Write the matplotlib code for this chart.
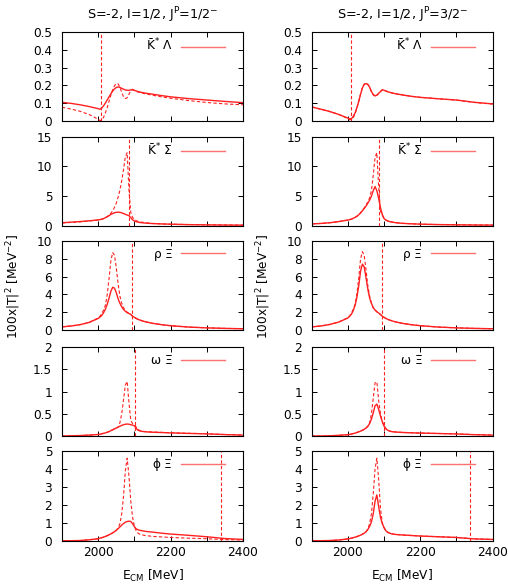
import matplotlib
matplotlib.use("Agg")
import matplotlib.pyplot as plt
from matplotlib.ticker import MultipleLocator, FuncFormatter
from matplotlib.lines import Line2D

plt.rcParams['font.family'] = ['DejaVu Sans']
plt.rcParams['mathtext.default'] = 'regular'

# Energy grid (MeV)
energy = [1900, 1925, 1950, 1975, 2000, 2005, 2010, 2015, 2020, 2025, 2030, 2035,
          2040, 2045, 2050, 2055, 2060, 2065, 2070, 2075, 2080, 2085, 2090, 2095,
          2100, 2105, 2110, 2115, 2120, 2130, 2150, 2175, 2200, 2250, 2300, 2350, 2400]

channels = [r"$\bar{K}^{*}$ $\Lambda$", r"$\bar{K}^{*}$ $\Sigma$", r"$\rho$ $\Xi$",
            r"$\omega$ $\Xi$", r"$\phi$ $\Xi$"]
thresholds = [2008, 2085, 2093, 2101, 2338]
ymax = [0.5, 15, 10, 2, 5]
ystep = [0.1, 5, 2, 0.5, 1]
titles = [r"S=-2, I=1/2, J$^{P}$=1/2$^{-}$", r"S=-2, I=1/2, J$^{P}$=3/2$^{-}$"]

# ---- J^P = 1/2^- (left column) ----
kl_12_solid = [0.104, 0.098, 0.090, 0.080, 0.068, 0.065, 0.072, 0.085, 0.100, 0.118, 0.135, 0.152,
               0.168, 0.180, 0.188, 0.191, 0.188, 0.183, 0.178, 0.174, 0.172, 0.172, 0.174, 0.177,
               0.172, 0.168, 0.165, 0.162, 0.160, 0.156, 0.150, 0.142, 0.135, 0.125, 0.117, 0.109, 0.102]
kl_12_dash = [0.076, 0.066, 0.053, 0.035, 0.008, 0.000, 0.005, 0.020, 0.045, 0.075, 0.110, 0.145,
              0.175, 0.198, 0.210, 0.208, 0.190, 0.160, 0.135, 0.125, 0.130, 0.150, 0.168, 0.175,
              0.170, 0.166, 0.162, 0.160, 0.157, 0.152, 0.144, 0.135, 0.127, 0.114, 0.103, 0.095, 0.090]
ks_12_solid = [0.50, 0.60, 0.70, 0.82, 0.98, 1.03, 1.10, 1.20, 1.35, 1.50, 1.70, 1.90,
               2.05, 2.18, 2.25, 2.28, 2.25, 2.17, 2.05, 1.92, 1.80, 1.68, 1.35, 1.00,
               0.80, 0.68, 0.60, 0.54, 0.50, 0.44, 0.36, 0.30, 0.25, 0.18, 0.14, 0.11, 0.09]
ks_12_dash = [0.45, 0.55, 0.65, 0.80, 0.95, 1.00, 1.10, 1.20, 1.35, 1.55, 1.80, 2.10,
              2.50, 3.10, 3.80, 4.80, 6.00, 7.60, 9.50, 11.6, 12.3, 6.00, 2.20, 1.40,
              1.10, 0.85, 0.72, 0.65, 0.60, 0.50, 0.38, 0.30, 0.26, 0.19, 0.15, 0.12, 0.10]
rx_12_solid = [0.35, 0.45, 0.60, 0.85, 1.30, 1.45, 1.65, 1.95, 2.35, 2.90, 3.60, 4.35,
               4.80, 4.70, 4.20, 3.50, 3.00, 2.60, 2.30, 2.10, 1.95, 1.85, 1.75, 1.55,
               1.42, 1.30, 1.20, 1.12, 1.05, 0.93, 0.75, 0.60, 0.48, 0.33, 0.24, 0.18, 0.14]
rx_12_dash = [0.35, 0.45, 0.60, 0.85, 1.35, 1.55, 1.85, 2.25, 2.80, 4.00, 5.80, 7.80,
              8.70, 8.40, 7.00, 5.20, 3.80, 3.00, 2.50, 2.20, 2.00, 1.85, 1.75, 1.55,
              1.42, 1.30, 1.20, 1.12, 1.05, 0.93, 0.75, 0.60, 0.48, 0.33, 0.24, 0.18, 0.14]
wx_12_solid = [0.000, 0.005, 0.010, 0.020, 0.035, 0.040, 0.050, 0.060, 0.070, 0.085, 0.100, 0.120,
               0.140, 0.160, 0.180, 0.200, 0.220, 0.240, 0.255, 0.265, 0.270, 0.265, 0.255, 0.245,
               0.230, 0.170, 0.130, 0.115, 0.105, 0.095, 0.085, 0.078, 0.070, 0.058, 0.048, 0.032, 0.020]
wx_12_dash = [0.000, 0.005, 0.010, 0.020, 0.035, 0.040, 0.050, 0.060, 0.070, 0.085, 0.100, 0.120,
              0.140, 0.160, 0.180, 0.200, 0.300, 0.500, 0.820, 1.150, 1.230, 0.750, 0.350, 0.280,
              0.260, 0.200, 0.150, 0.125, 0.112, 0.100, 0.090, 0.082, 0.074, 0.061, 0.050, 0.034, 0.022]
px_12_solid = [0.00, 0.00, 0.01, 0.05, 0.11, 0.14, 0.17, 0.20, 0.24, 0.28, 0.33, 0.38,
               0.44, 0.50, 0.58, 0.67, 0.77, 0.87, 0.96, 1.03, 1.07, 1.09, 1.07, 0.95,
               0.78, 0.66, 0.61, 0.58, 0.56, 0.52, 0.48, 0.42, 0.37, 0.30, 0.22, 0.12, 0.07]
px_12_dash = [0.00, 0.00, 0.01, 0.05, 0.11, 0.14, 0.17, 0.20, 0.24, 0.28, 0.33, 0.38,
              0.44, 0.50, 0.58, 0.70, 0.95, 1.50, 2.50, 3.90, 4.60, 3.60, 2.20, 1.30,
              0.80, 0.55, 0.42, 0.36, 0.33, 0.29, 0.24, 0.21, 0.18, 0.14, 0.11, 0.06, 0.04]

# ---- J^P = 3/2^- (right column) ----
kl_32_solid = [0.078, 0.065, 0.052, 0.035, 0.015, 0.010, 0.012, 0.025, 0.045, 0.075, 0.110, 0.150,
               0.185, 0.205, 0.210, 0.205, 0.190, 0.165, 0.148, 0.140, 0.145, 0.155, 0.165, 0.175,
               0.172, 0.168, 0.164, 0.161, 0.158, 0.153, 0.146, 0.138, 0.132, 0.124, 0.117, 0.104, 0.095]
kl_32_dash = [0.078, 0.065, 0.052, 0.035, 0.012, 0.005, 0.008, 0.018, 0.040, 0.072, 0.108, 0.150,
              0.187, 0.207, 0.212, 0.206, 0.188, 0.163, 0.146, 0.138, 0.143, 0.154, 0.165, 0.175,
              0.172, 0.168, 0.164, 0.161, 0.158, 0.153, 0.146, 0.138, 0.132, 0.124, 0.116, 0.103, 0.094]
ks_32_solid = [0.30, 0.38, 0.50, 0.70, 0.95, 1.02, 1.12, 1.25, 1.40, 1.60, 1.85, 2.15,
               2.50, 2.90, 3.30, 3.80, 4.30, 5.00, 5.90, 6.60, 5.90, 4.60, 3.00, 1.90,
               1.20, 0.95, 0.80, 0.70, 0.63, 0.52, 0.40, 0.32, 0.26, 0.19, 0.15, 0.12, 0.10]
ks_32_dash = [0.30, 0.38, 0.50, 0.70, 0.95, 1.02, 1.12, 1.25, 1.40, 1.60, 1.85, 2.20,
              2.60, 3.00, 3.50, 4.00, 4.70, 5.90, 8.50, 11.5, 12.3, 6.50, 2.50, 1.70,
              1.20, 0.95, 0.80, 0.70, 0.63, 0.52, 0.40, 0.32, 0.26, 0.19, 0.15, 0.12, 0.10]
rx_32_solid = [0.35, 0.45, 0.62, 0.90, 1.35, 1.55, 1.80, 2.20, 2.80, 3.70, 5.00, 6.60,
               7.40, 7.10, 5.90, 4.60, 3.60, 3.00, 2.50, 2.25, 2.05, 1.90, 1.75, 1.55,
               1.42, 1.30, 1.20, 1.12, 1.05, 0.93, 0.75, 0.60, 0.48, 0.33, 0.24, 0.18, 0.14]
rx_32_dash = [0.35, 0.45, 0.62, 0.90, 1.38, 1.60, 1.90, 2.35, 2.90, 4.10, 5.90, 8.00,
              8.80, 8.40, 6.80, 5.00, 3.80, 3.00, 2.50, 2.25, 2.05, 1.90, 1.75, 1.55,
              1.42, 1.30, 1.20, 1.12, 1.05, 0.93, 0.75, 0.60, 0.48, 0.33, 0.24, 0.18, 0.14]
wx_32_solid = [0.000, 0.000, 0.005, 0.015, 0.030, 0.035, 0.045, 0.055, 0.065, 0.080, 0.095, 0.110,
               0.130, 0.150, 0.180, 0.220, 0.280, 0.380, 0.520, 0.680, 0.720, 0.600, 0.450, 0.320,
               0.220, 0.160, 0.130, 0.112, 0.100, 0.090, 0.080, 0.072, 0.066, 0.056, 0.046, 0.030, 0.020]
wx_32_dash = [0.000, 0.000, 0.005, 0.015, 0.030, 0.035, 0.045, 0.055, 0.065, 0.080, 0.095, 0.110,
              0.130, 0.150, 0.180, 0.220, 0.300, 0.500, 0.850, 1.200, 1.220, 0.800, 0.500, 0.330,
              0.230, 0.165, 0.132, 0.113, 0.101, 0.091, 0.081, 0.073, 0.067, 0.057, 0.047, 0.031, 0.021]
px_32_solid = [0.00, 0.00, 0.01, 0.04, 0.10, 0.12, 0.14, 0.17, 0.20, 0.23, 0.27, 0.31,
               0.36, 0.42, 0.50, 0.62, 0.80, 1.05, 1.50, 2.20, 2.55, 1.90, 1.30, 0.95,
               0.72, 0.55, 0.47, 0.42, 0.39, 0.35, 0.32, 0.29, 0.26, 0.22, 0.18, 0.10, 0.07]
px_32_dash = [0.00, 0.00, 0.01, 0.04, 0.10, 0.12, 0.14, 0.17, 0.20, 0.23, 0.27, 0.31,
              0.36, 0.42, 0.50, 0.65, 0.95, 1.50, 2.60, 4.00, 4.60, 3.40, 1.80, 1.00,
              0.72, 0.55, 0.47, 0.42, 0.39, 0.35, 0.32, 0.29, 0.26, 0.22, 0.18, 0.10, 0.07]

solid = [[kl_12_solid, ks_12_solid, rx_12_solid, wx_12_solid, px_12_solid],
         [kl_32_solid, ks_32_solid, rx_32_solid, wx_32_solid, px_32_solid]]
dashed = [[kl_12_dash, ks_12_dash, rx_12_dash, wx_12_dash, px_12_dash],
          [kl_32_dash, ks_32_dash, rx_32_dash, wx_32_dash, px_32_dash]]

W, H = 508, 586
fig = plt.figure(figsize=(W / 100, H / 100), dpi=100)

col_left = [62, 311.7]
col_width = 181
rows = [(32.3, 120.7), (136.7, 225.7), (241, 330), (347.3, 436), (451, 540.7)]

RED = '#ff2020'
FS = 8.7


def xfmt(v, pos):
    iv = int(round(v))
    return str(iv) if iv % 200 == 0 else ''


def yfmt(v, pos):
    return '%g' % round(v, 6)


for c in range(2):
    for r in range(5):
        top, bot = rows[r]
        ax = fig.add_axes([col_left[c] / W, 1 - bot / H, col_width / W, (bot - top) / H])
        ax.plot(energy, solid[c][r], color=RED, lw=1.0)
        ax.plot(energy, dashed[c][r], color=RED, lw=0.8, ls=(0, (3, 2)))
        ax.axvline(thresholds[r], color=RED, lw=0.8, ls=(0, (3, 2)))
        ax.set_xlim(1900, 2400)
        ax.set_ylim(0, ymax[r])
        ax.xaxis.set_major_locator(MultipleLocator(100))
        ax.yaxis.set_major_locator(MultipleLocator(ystep[r]))
        ax.xaxis.set_major_formatter(FuncFormatter(xfmt))
        ax.yaxis.set_major_formatter(FuncFormatter(yfmt))
        ax.tick_params(direction='in', top=True, right=True, length=3.5, width=0.7,
                       labelsize=FS, pad=7)
        ax.tick_params(axis='x', pad=3.5)
        if r < 4:
            ax.tick_params(labelbottom=False)
        else:
            ax.set_xlabel(r"E$_{CM}$ [MeV]", fontsize=FS, labelpad=6.5)
        for s in ax.spines.values():
            s.set_linewidth(0.8)
        handle = Line2D([], [], color='#ff7070', lw=1.0)
        ax.legend(handles=[handle], labels=[channels[r]], loc='center right',
                  bbox_to_anchor=(0.90, 0.848),
                  frameon=False, markerfirst=False, fontsize=FS, handlelength=3.6,
                  handletextpad=0.7, borderpad=0, borderaxespad=0)
        if r == 0:
            ax.set_title(titles[c], fontsize=9.2, pad=9)
    fig.text((col_left[c] - 48) / W, 1 - 286 / H, r"100x|T|$^{2}$ [MeV$^{-2}$]",
             rotation=90, ha='center', va='center', fontsize=FS)

fig.savefig('out.png', dpi=100)
